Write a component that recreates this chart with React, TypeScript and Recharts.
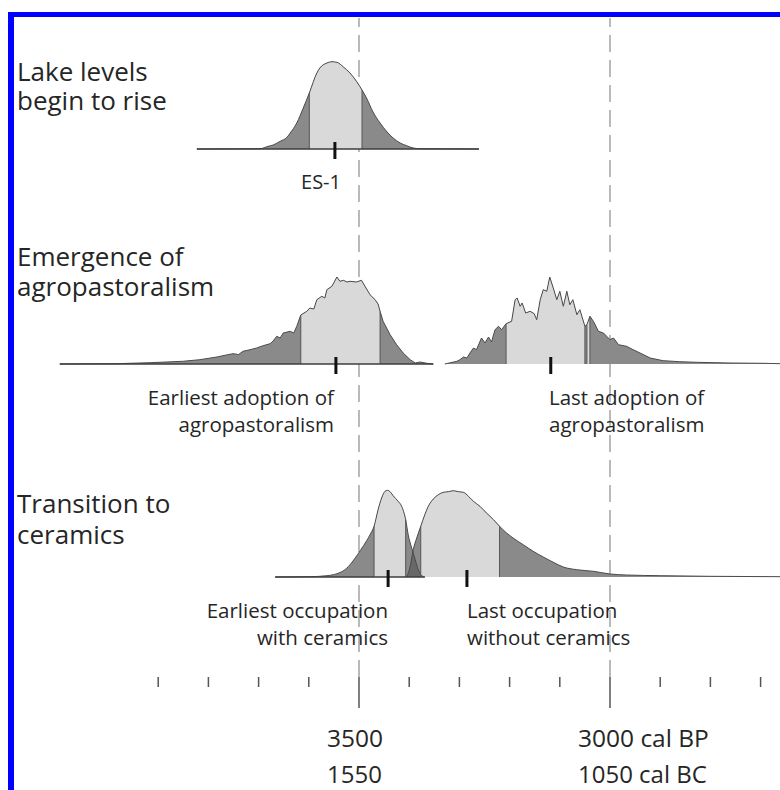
import React from 'react';
import { ComposedChart, Area, XAxis, YAxis, ReferenceLine, Scatter } from 'recharts';

type Pt = [number, number];

// ---- data (years cal BP, relative probability density) ----
const lakeRise: Pt[] = [
  [3823, 0], [3697, 0.3], [3681, 2.7], [3671, 4], [3657, 7.7], [3643, 12], [3637, 16], [3624, 26],
  [3611, 41], [3599, 56], [3584, 76], [3578, 81], [3564, 86], [3554, 87.3], [3544, 86.7], [3531, 82],
  [3518, 76], [3505, 67.7], [3494, 59], [3485, 51], [3472, 37], [3458, 26], [3444, 17], [3432, 11],
  [3418, 6], [3405, 3.3], [3392, 1], [3378, 0.3], [3261, 0],
];
const lakeRiseHpd: Pt[] = [[3599, 3494]];
const lakeRiseMedian = 3548;

const earliestAgro: Pt[] = [
  [4096, 0], [3983, 0.3], [3916, 1.3], [3851, 2.7], [3817, 4.3], [3783, 7], [3771, 8.3], [3751, 10.3],
  [3740, 9.5], [3731, 12.7], [3717, 14.3], [3704, 16], [3691, 18.3], [3677, 20.3], [3671, 23], [3664, 27.7],
  [3657, 26], [3651, 31], [3637, 32.7], [3630, 31], [3624, 37.7], [3616, 49], [3604, 52.7], [3598, 56],
  [3590, 55], [3584, 64.3], [3574, 67.7], [3568, 66], [3564, 74.3], [3554, 77.7], [3544, 87], [3538, 82.7],
  [3531, 83.7], [3524, 82], [3518, 82.7], [3505, 82], [3495, 83.7], [3488, 77.7], [3478, 69.3],
  [3468, 64.3], [3462, 60], [3458, 52.7], [3452, 42.7], [3438, 29.3], [3425, 19.3], [3412, 11],
  [3398, 4.3], [3388, 1], [3378, 2], [3365, 0.7], [3352, 0],
];
const earliestAgroHpd: Pt[] = [[3616, 3458]];
const earliestAgroMedian = 3546;

const lastAgro: Pt[] = [
  [3329, 0], [3305, 2.7], [3299, 4.3], [3292, 7], [3285, 6], [3279, 11], [3272, 16], [3266, 14.3],
  [3256, 26], [3249, 21], [3242, 27], [3236, 22], [3229, 34.3], [3222, 37.7], [3216, 34.3], [3207, 40.3],
  [3196, 42.7], [3189, 64.3], [3185, 66], [3179, 57.7], [3175, 61], [3168, 51], [3159, 52.7], [3151, 50.3],
  [3146, 44.3], [3139, 64.3], [3133, 74.3], [3126, 72.7], [3120, 87], [3113, 76], [3106, 64.3],
  [3100, 72.7], [3093, 57.7], [3086, 72.7], [3080, 59.3], [3074, 64.3], [3066, 49.3], [3060, 54.3],
  [3050, 37.7], [3046, 39.3], [3040, 47.7], [3033, 42.7], [3023, 32.7], [3013, 31], [3000, 24.3],
  [2993, 26], [2983, 19.3], [2967, 17.7], [2954, 14.3], [2940, 11], [2920, 6], [2894, 3.3],
  [2861, 2.3], [2827, 1.7], [2761, 1], [2695, 0.7], [2661, 0.3],
];
const lastAgroHpd: Pt[] = [[3207, 3050], [3046, 3040]];
const lastAgroMedian = 3118;

const earliestCeramics: Pt[] = [
  [3667, 0], [3598, 0.3], [3564, 1.3], [3544, 3.3], [3528, 7.3], [3515, 14], [3503, 22.3], [3491, 31.3],
  [3478, 42.3], [3470, 50.7], [3462, 67.3], [3455, 79], [3448, 85.7], [3443, 86.7], [3437, 84.7],
  [3432, 81.3], [3422, 75.7], [3415, 70.7], [3407, 57.3], [3402, 42.3], [3395, 29], [3388, 17.3],
  [3382, 7.3], [3375, 1.3], [3369, 0],
];
const earliestCeramicsHpd: Pt[] = [[3470, 3407]];
const earliestCeramicsMedian = 3442;

const lastNoCeramics: Pt[] = [
  [3405, 0], [3398, 10.7], [3392, 27.3], [3385, 39], [3377, 50.7], [3369, 62.3], [3362, 70.7],
  [3352, 78], [3342, 82.3], [3332, 84.7], [3322, 85.3], [3312, 86.3], [3302, 85.3], [3292, 84.7],
  [3282, 80.7], [3272, 75.7], [3259, 70.7], [3246, 64], [3232, 57.3], [3220, 50.7], [3206, 44],
  [3193, 39], [3173, 32.3], [3153, 25.7], [3133, 20], [3113, 14.7], [3093, 10], [3066, 7.3],
  [3033, 5.7], [3000, 3], [2967, 2], [2900, 1.3], [2801, 0.7], [2661, 0.3],
];
const lastNoCeramicsHpd: Pt[] = [[3377, 3220]];
const lastNoCeramicsMedian = 3285;

const tickYears = [3900, 3800, 3700, 3600, 3500, 3400, 3300, 3200, 3100, 3000, 2900, 2800, 2700];
const majorYears = [3500, 3000];
const bpLabels = ['3500', '3000 cal BP'];
const bcLabels = ['1550', '1050 cal BC'];

const titles = [
  ['Lake levels', 'begin to rise'],
  ['Emergence of', 'agropastoralism'],
  ['Transition to', 'ceramics'],
];

// ---- layout ----
const W = 780;
const H = 790;
const XDOMAIN: [number, number] = [2661.35, 4215.14];
const FONT = "'Open Sans', sans-serif";
const TEXT = '#262626';

interface Dist {
  name: string;
  pts: Pt[];
  hpd: Pt[];
  median: number;
  smooth: boolean;
}

function buildRows(dists: Dist[]) {
  const map = new Map<number, any>();
  const put = (year: number, key: string, v: number) => {
    let r = map.get(year);
    if (!r) {
      r = { year };
      map.set(year, r);
    }
    r[key] = v;
  };
  dists.forEach((d) => {
    d.pts.forEach(([y, v]) => put(y, d.name, v));
    d.hpd.forEach(([a, b], i) => {
      const hi = Math.max(a, b);
      const lo = Math.min(a, b);
      d.pts.forEach(([y, v]) => {
        if (y <= hi && y >= lo) put(y, `${d.name}_h${i}`, v);
      });
    });
  });
  return Array.from(map.values()).sort((p, q) => p.year - q.year);
}

const valueAt = (d: Dist, year: number) => {
  const p = d.pts.find((q) => q[0] === year);
  return p ? p[1] : 0;
};

const MedianTick = (props: any) => {
  const { cx, cy } = props;
  if (cx == null || cy == null) return <g />;
  return <rect x={cx - 1.5} y={cy - 7} width={3} height={17} fill="#111" />;
};

const NoShape = () => <g />;

function Panel({ baseline, dists }: { baseline: number; dists: Dist[] }) {
  const rows = buildRows(dists);
  const common = { isAnimationActive: false, connectNulls: true, baseValue: 0 as number, dot: false, activeDot: false };
  return (
    <div style={{ position: 'absolute', left: 0, top: baseline - 100 }}>
      <ComposedChart width={W} height={125} data={rows} margin={{ top: 0, right: 0, bottom: 0, left: 0 }}>
        <XAxis dataKey="year" type="number" domain={XDOMAIN} reversed hide allowDataOverflow />
        <YAxis type="number" domain={[-25, 100]} hide allowDataOverflow />
        {dists.map((d) => (
          <Area key={d.name + '-white'} dataKey={d.name} type={d.smooth ? 'monotone' : 'linear'}
            fill="#ffffff" fillOpacity={1} stroke="none" {...common} />
        ))}
        {dists.map((d) => (
          <Area key={d.name + '-dark'} dataKey={d.name} type={d.smooth ? 'monotone' : 'linear'}
            fill="#5a5a5a" fillOpacity={0.71} stroke="none" {...common} />
        ))}
        {dists.flatMap((d) =>
          d.hpd.map((_, i) => (
            <Area key={`${d.name}-hpd${i}`} dataKey={`${d.name}_h${i}`} type={d.smooth ? 'monotone' : 'linear'}
              fill="#d9d9d9" fillOpacity={1} stroke="none" {...common} />
          ))
        )}
        {dists.flatMap((d) =>
          d.hpd.flatMap(([a, b], i) =>
            [a, b].map((yr, j) => (
              <ReferenceLine key={`${d.name}-edge${i}-${j}`}
                segment={[{ x: yr, y: 0 }, { x: yr, y: valueAt(d, yr) }]}
                stroke="#555" strokeWidth={1} />
            ))
          )
        )}
        {dists.map((d) => (
          <Area key={d.name + '-line'} dataKey={d.name} type={d.smooth ? 'monotone' : 'linear'}
            fill="none" fillOpacity={0} stroke="#4a4a4a" strokeWidth={1} {...common} />
        ))}
        {dists.map((d) => (
          <ReferenceLine key={d.name + '-base'}
            segment={[{ x: d.pts[0][0], y: 0 }, { x: d.pts[d.pts.length - 1][0], y: 0 }]}
            stroke="#3c3c3c" strokeWidth={1.4} />
        ))}
        <Scatter data={dists.map((d) => ({ year: d.median, v: 0 }))} dataKey="v"
          shape={MedianTick} isAnimationActive={false} />
      </ComposedChart>
    </div>
  );
}

const AxisTick = (props: any) => {
  const { x, y, payload } = props;
  const idx = majorYears.indexOf(payload.value);
  const major = idx >= 0;
  return (
    <g>
      <line x1={x} x2={x} y1={y} y2={y + (major ? 31 : 10)} stroke="#555" strokeWidth={1.5} />
      {major && (
        <text x={x - 32} y={y + 70} textAnchor="start" fontFamily={FONT} fontSize={24.5} fill={TEXT}>
          {bpLabels[idx]}
        </text>
      )}
      {major && (
        <text x={x - 32} y={y + 106} textAnchor="start" fontFamily={FONT} fontSize={24} fill={TEXT}>
          {bcLabels[idx]}
        </text>
      )}
    </g>
  );
};

const panel1: Dist[] = [
  { name: 'lake', pts: lakeRise, hpd: lakeRiseHpd, median: lakeRiseMedian, smooth: true },
];
const panel2: Dist[] = [
  { name: 'agroA', pts: earliestAgro, hpd: earliestAgroHpd, median: earliestAgroMedian, smooth: false },
  { name: 'agroB', pts: lastAgro, hpd: lastAgroHpd, median: lastAgroMedian, smooth: false },
];
const panel3: Dist[] = [
  { name: 'cerA', pts: earliestCeramics, hpd: earliestCeramicsHpd, median: earliestCeramicsMedian, smooth: true },
  { name: 'cerB', pts: lastNoCeramics, hpd: lastNoCeramicsHpd, median: lastNoCeramicsMedian, smooth: true },
];

export default function App() {
  const axisRows = tickYears.map((y) => ({ year: y, v: 0.5 }));
  return (
    <div style={{ position: 'absolute', left: 0, top: 0, width: W, height: H, overflow: 'hidden', background: '#fff' }}>
      <div style={{
        position: 'absolute', left: 8, top: 12, width: W + 40, height: H + 40,
        borderTop: '5px solid #0000ff', borderLeft: '6px solid #0000ff', boxSizing: 'border-box',
      }} />
      <div style={{ position: 'absolute', left: 0, top: 0 }}>
        <ComposedChart width={W} height={H} data={axisRows} margin={{ top: 18, right: 0, bottom: 0, left: 0 }}>
          <XAxis dataKey="year" type="number" domain={XDOMAIN} reversed allowDataOverflow ticks={tickYears}
            interval={0} height={113} axisLine={false} tickLine={false} tickSize={0} tickMargin={0}
            tick={AxisTick} />
          <YAxis type="number" domain={[0, 1]} hide />
          <Scatter dataKey="v" shape={NoShape} isAnimationActive={false} />
          {majorYears.map((y) => (
            <ReferenceLine key={y} x={y} stroke="#a3a3a3" strokeWidth={1.5} strokeDasharray="17 8"
              ifOverflow="visible" />
          ))}
        </ComposedChart>
      </div>
      <Panel baseline={149} dists={panel1} />
      <Panel baseline={364} dists={panel2} />
      <Panel baseline={577} dists={panel3} />
      <svg width={W} height={H} style={{ position: 'absolute', left: 0, top: 0, pointerEvents: 'none' }}>
        <g fontFamily={FONT} fill={TEXT}>
          <text x={17} y={81} fontSize={26}>{titles[0][0]}</text>
          <text x={17} y={110} fontSize={26}>{titles[0][1]}</text>
          <text x={17} y={266} fontSize={26}>{titles[1][0]}</text>
          <text x={17} y={296} fontSize={26}>{titles[1][1]}</text>
          <text x={17} y={513} fontSize={26}>{titles[2][0]}</text>
          <text x={17} y={544} fontSize={26}>{titles[2][1]}</text>
          <text x={321} y={189} fontSize={20} textAnchor="middle">ES-1</text>
          <text x={334} y={405} fontSize={20.5} textAnchor="end">Earliest adoption of</text>
          <text x={334} y={432} fontSize={20.5} textAnchor="end">agropastoralism</text>
          <text x={549} y={405} fontSize={20.5}>Last adoption of</text>
          <text x={549} y={432} fontSize={20.5}>agropastoralism</text>
          <text x={388} y={618} fontSize={20.5} textAnchor="end">Earliest occupation</text>
          <text x={388} y={645} fontSize={20.5} textAnchor="end">with ceramics</text>
          <text x={467} y={618} fontSize={20.5}>Last occupation</text>
          <text x={467} y={645} fontSize={20.5}>without ceramics</text>
        </g>
      </svg>
    </div>
  );
}
